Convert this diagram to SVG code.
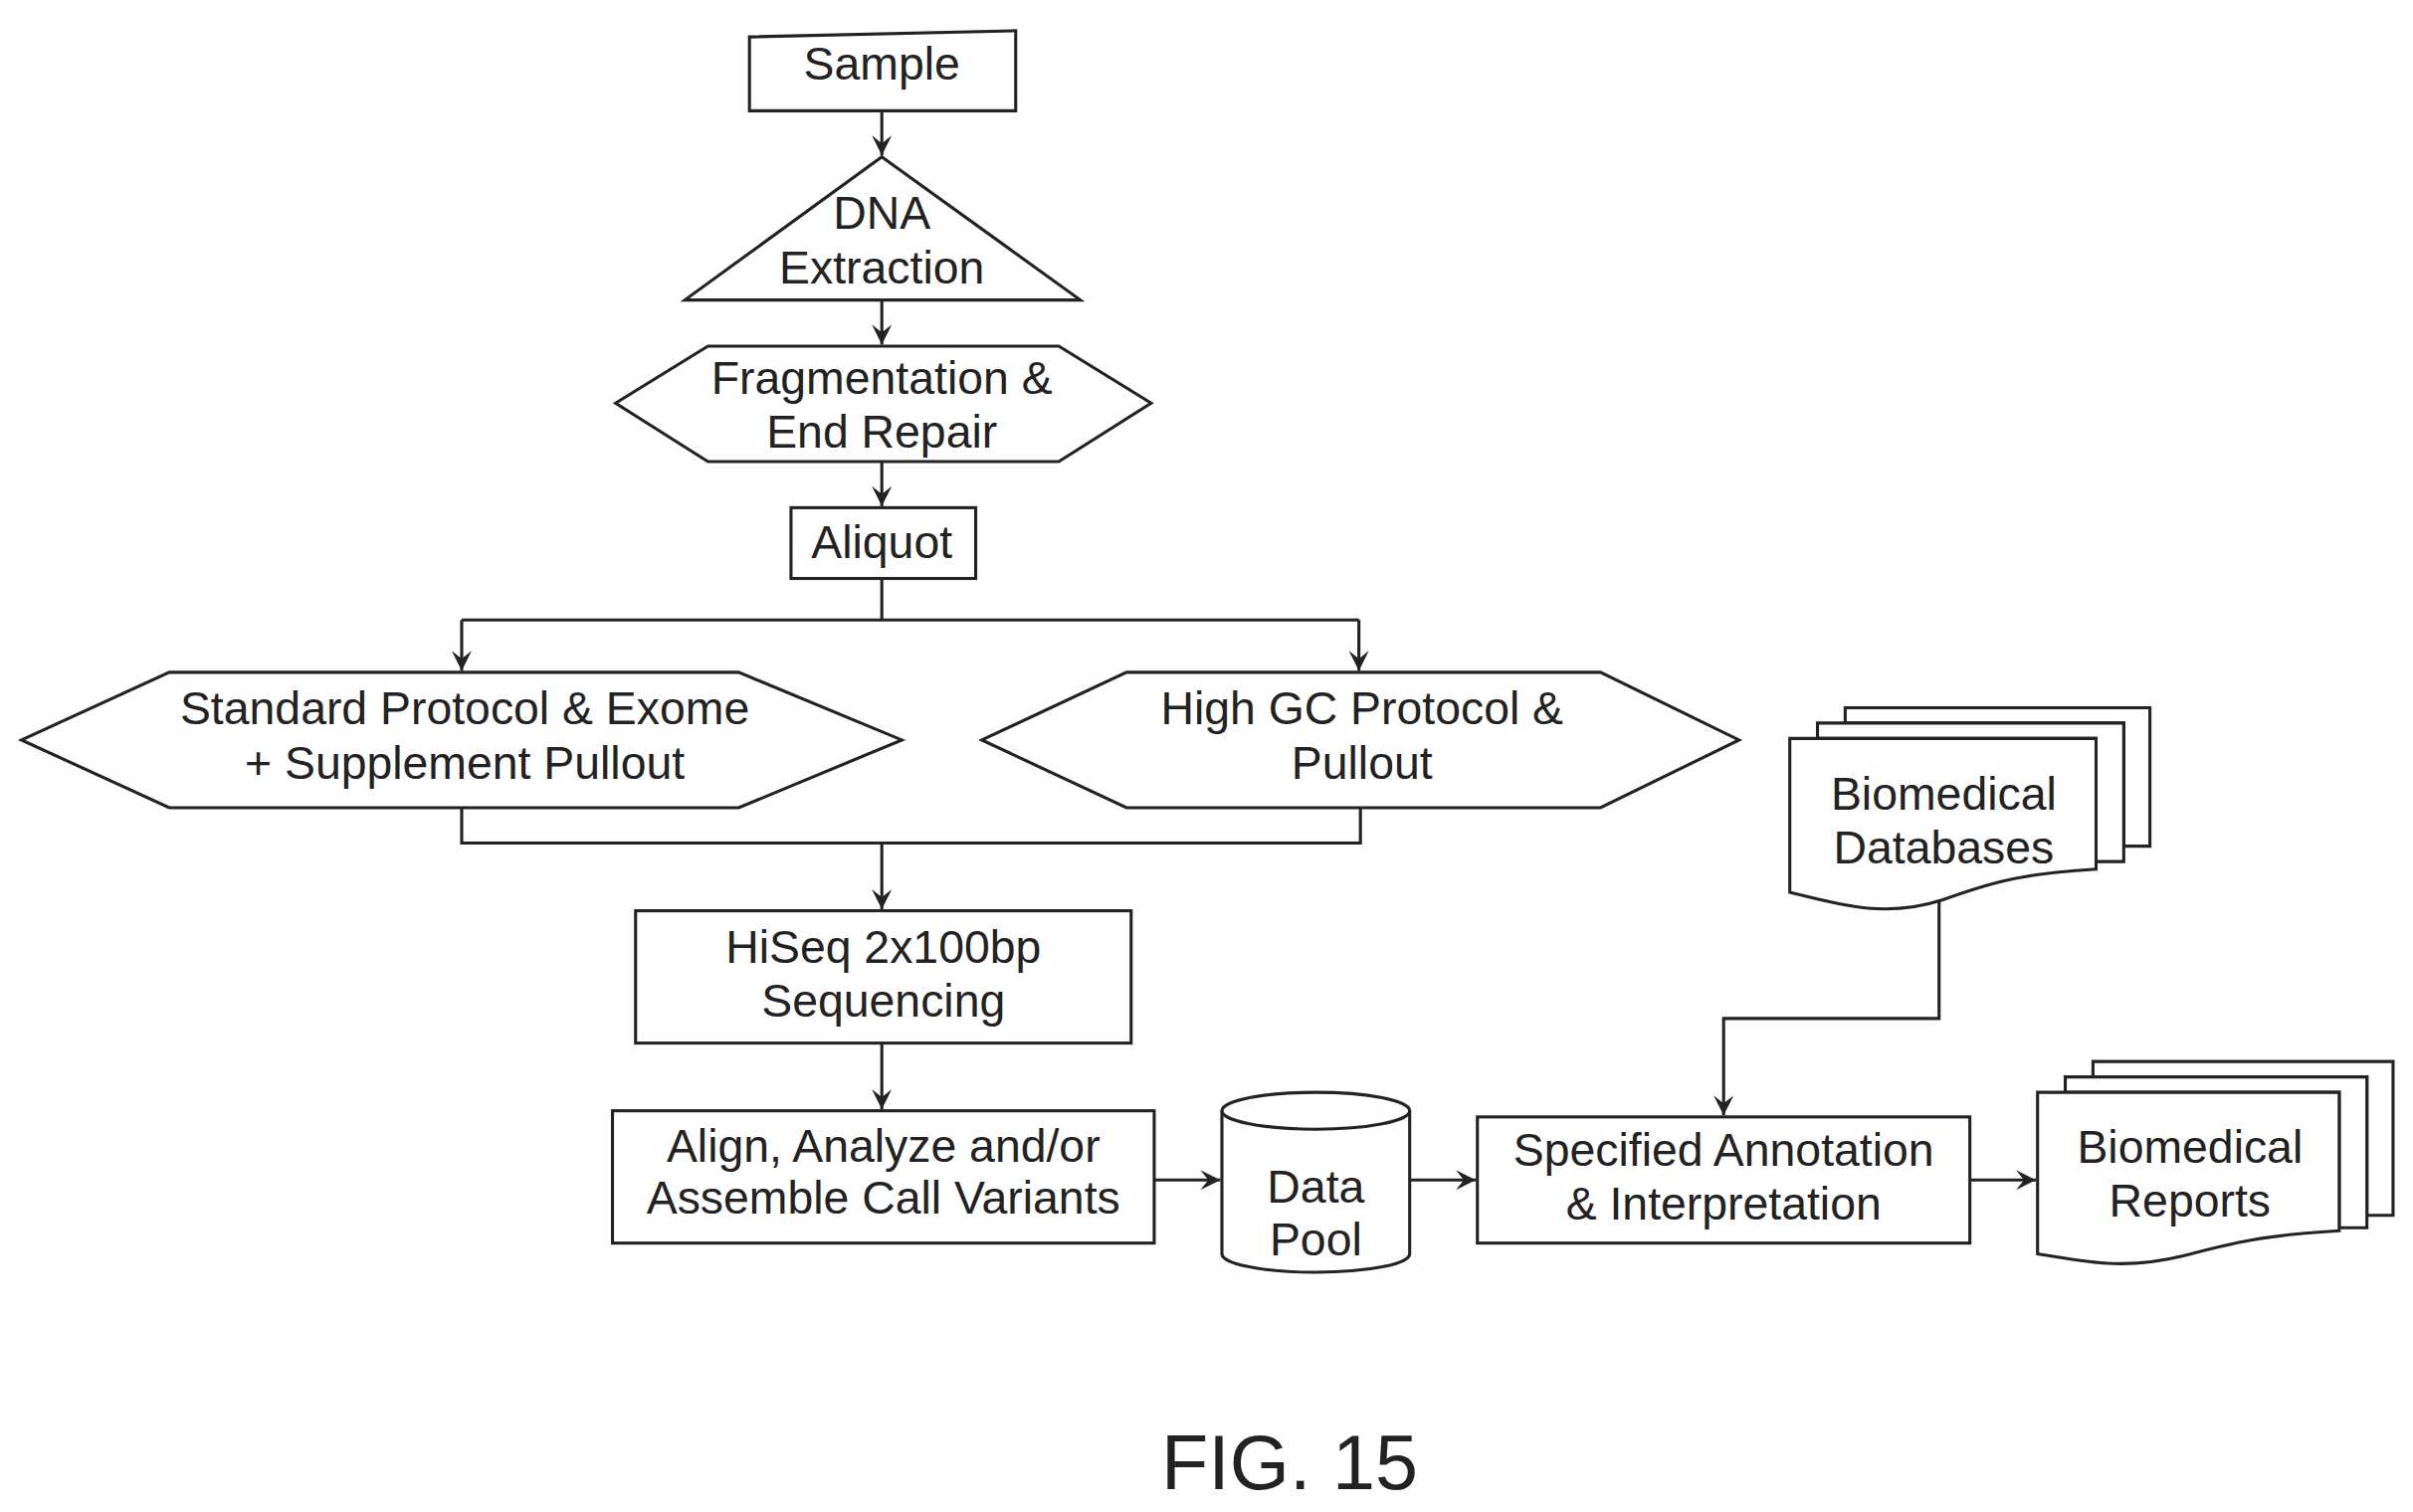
<svg xmlns="http://www.w3.org/2000/svg" width="2425" height="1520" viewBox="0 0 2425 1520">
<defs>
<marker id="ah" viewBox="0 0 10 10" refX="10" refY="5" markerWidth="13" markerHeight="13" orient="auto" markerUnits="userSpaceOnUse">
<path d="M0,0 L10,5 L0,10 L4,5 Z" fill="#222"/>
</marker>
<style>
.s{fill:#fff;stroke:#222;stroke-width:2}
.c{fill:none;stroke:#222;stroke-width:2}
text{font-family:"Liberation Sans",Arial,sans-serif;font-size:30px;fill:#222;text-anchor:middle}
</style>
</defs>
<rect width="2425" height="1520" fill="#fff"/>
<g transform="scale(1.5466)">
<g id="sample"><path class="s" d="M487,24 L660,20 L660,72 L487,72 Z"/><text x="573" y="52">Sample</text></g>
<g id="dna"><path class="s" d="M573,102 L702,195 L445,195 Z"/><text x="573" y="149">DNA</text><text x="573" y="184">Extraction</text></g>
<g id="frag"><path class="s" d="M400,262 L460,225 L688,225 L748,262 L688,300 L460,300 Z"/><text x="573" y="256">Fragmentation &amp;</text><text x="573" y="291">End Repair</text></g>
<g id="aliquot"><rect class="s" x="514" y="330" width="120" height="46"/><text x="573" y="363">Aliquot</text></g>
<g id="std"><path class="s" d="M14,481 L110,437 L480,437 L586,481 L480,525 L110,525 Z"/><text x="302" y="471">Standard Protocol &amp; Exome</text><text x="302" y="506">+ Supplement Pullout</text></g>
<g id="highgc"><path class="s" d="M638,481 L732,437 L1040,437 L1130,481 L1040,525 L732,525 Z"/><text x="885" y="471">High GC Protocol &amp;</text><text x="885" y="506">Pullout</text></g>
<g id="hiseq"><rect class="s" x="413" y="592" width="322" height="86"/><text x="574" y="626">HiSeq 2x100bp</text><text x="574" y="661">Sequencing</text></g>
<g id="align"><rect class="s" x="398" y="722" width="352" height="86"/><text x="574" y="755">Align, Analyze and/or</text><text x="574" y="789">Assemble Call Variants</text></g>
<g id="datapool"><path class="s" d="M794,722 V815 A61,12 0 0 0 916,815 V722"/><ellipse class="s" cx="855" cy="722" rx="61" ry="12"/><text x="855" y="782">Data</text><text x="855" y="816">Pool</text></g>
<g id="spec"><rect class="s" x="960" y="726" width="320" height="82"/><text x="1120" y="758">Specified Annotation</text><text x="1120" y="793">&amp; Interpretation</text></g>
<g id="db">
<path class="s" d="M1199,460 H1397 V550 H1380 V470 H1199 Z"/>
<path class="s" d="M1181,470 H1380 V560 H1362 V480 H1181 Z"/>
<path class="s" d="M1163,480 H1362 V565 C1310,568 1290,575 1262,585 C1225,597 1195,588 1163,580 Z"/>
<text x="1263" y="526">Biomedical</text><text x="1263" y="561">Databases</text></g>
<g id="reports">
<path class="s" d="M1360,690 H1555 V790 H1538 V700 H1360 Z"/>
<path class="s" d="M1342,700 H1538 V798 H1520 V710 H1342 Z"/>
<path class="s" d="M1324,710 H1520 V800 C1470,803 1450,808 1420,816 C1380,826 1355,820 1324,815 Z"/>
<text x="1423" y="756">Biomedical</text><text x="1423" y="791">Reports</text></g>
<g id="connectors">
<path class="c" d="M573,72 V101" marker-end="url(#ah)"/>
<path class="c" d="M573,195 V224" marker-end="url(#ah)"/>
<path class="c" d="M573,300 V329" marker-end="url(#ah)"/>
<path class="c" d="M573,376 V403 H300 M573,403 H883"/>
<path class="c" d="M300,403 V436" marker-end="url(#ah)"/>
<path class="c" d="M883,403 V436" marker-end="url(#ah)"/>
<path class="c" d="M300,525 V548 H884 V525"/>
<path class="c" d="M573,548 V591" marker-end="url(#ah)"/>
<path class="c" d="M573,678 V721" marker-end="url(#ah)"/>
<path class="c" d="M750,767 H793" marker-end="url(#ah)"/>
<path class="c" d="M916,767 H959" marker-end="url(#ah)"/>
<path class="c" d="M1280,767 H1323" marker-end="url(#ah)"/>
<path class="c" d="M1260,586 V662 H1120 V725" marker-end="url(#ah)"/>
</g>
<text x="838" y="968" style="font-size:50px">FIG. 15</text>
</g>
</svg>
